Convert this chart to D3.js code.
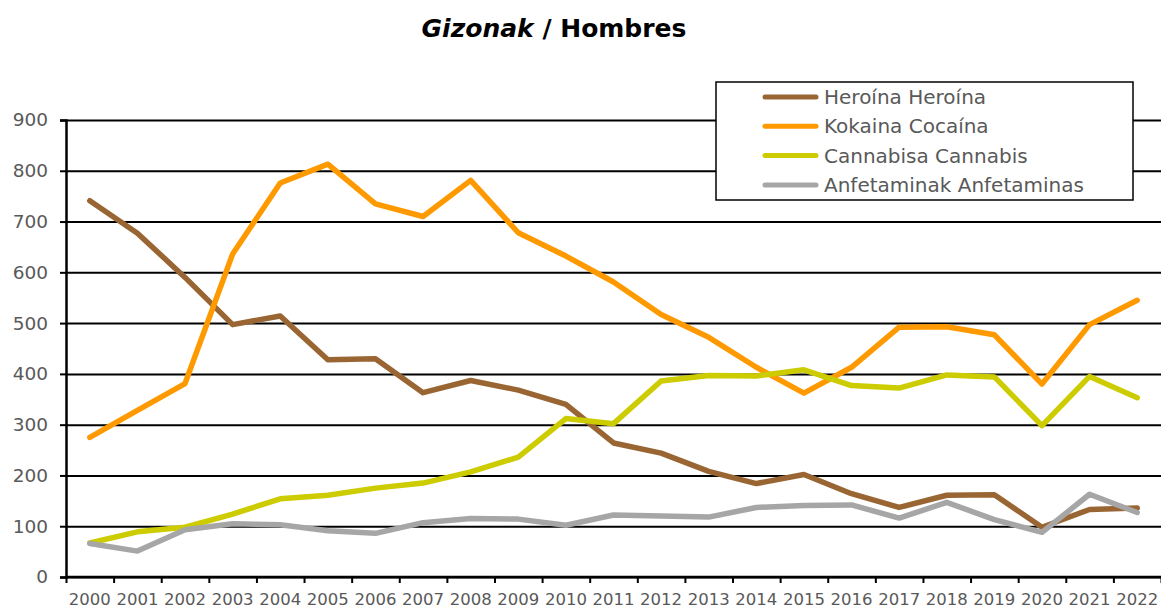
<!DOCTYPE html>
<html>
<head>
<meta charset="utf-8">
<script src="https://cdn.jsdelivr.net/npm/d3@7"></script>
<style>
  body { margin: 0; background: #fff; }
  text { font-family: "DejaVu Sans", sans-serif; }
</style>
</head>
<body>
<div class="chart"></div>
<script>
var years = ['2000','2001','2002','2003','2004','2005','2006','2007','2008','2009','2010','2011',
             '2012','2013','2014','2015','2016','2017','2018','2019','2020','2021','2022'];
var heroina     = [741,677,590,497,514,428,430,363,387,368,340,264,244,208,184,202,164,137,161,162,98,133,136];
var cocaina     = [275,328,381,636,776,813,735,710,781,678,632,581,517,472,413,362,413,492,493,477,380,497,545];
var cannabis    = [67,89,98,124,154,161,175,185,207,236,312,302,386,397,396,408,377,372,398,394,298,395,353];
var anfetaminas = [66,51,93,105,103,91,86,107,115,114,102,122,120,118,137,141,142,116,147,113,88,163,127];
var seriesNames = ['Heroína Heroína','Kokaina Cocaína','Cannabisa Cannabis','Anfetaminak Anfetaminas'];
var colors = ['#996633','#ff9900','#cccc00','#a6a6a6'];
var yTicks = [0,100,200,300,400,500,600,700,800,900];

var series = [heroina, cocaina, cannabis, anfetaminas];

var W = 1161, H = 610;
var pLeft = 66, pRight = 1161, pTop = 120, pBottom = 577;

var svg = d3.select('.chart').append('svg')
            .attr('width', W)
            .attr('height', H);

// title
var title = svg.append('text')
    .attr('x', 554).attr('y', 37)
    .attr('text-anchor', 'middle')
    .attr('font-size', '25px')
    .attr('font-weight', 'bold')
    .attr('fill', '#000');
title.append('tspan').attr('font-style', 'italic').text('Gizonak');
title.append('tspan').text(' / Hombres');

var x = d3.scaleBand().domain(years).range([pLeft, pRight]).paddingInner(0).paddingOuter(0);
var xEdge = d3.scaleLinear().domain([0, years.length]).range([pLeft, pRight]);
var y = d3.scaleLinear().domain([0, 900]).range([pBottom, pTop]);

// grid lines
svg.append('g')
   .attr('transform', 'translate(' + pLeft + ',0)')
   .call(d3.axisLeft(y).tickValues(yTicks).tickSize(-(pRight - pLeft)).tickFormat(''))
   .call(function(g){ g.select('.domain').remove(); })
   .selectAll('line').attr('stroke', '#000').attr('stroke-width', 2);

// y axis
var yAxis = svg.append('g')
   .attr('transform', 'translate(' + pLeft + ',0)')
   .call(d3.axisLeft(y).tickValues(yTicks).tickSize(6).tickPadding(12));
yAxis.select('.domain').attr('stroke', '#000').attr('stroke-width', 2.5);
yAxis.selectAll('line').attr('stroke', '#000').attr('stroke-width', 2);
yAxis.selectAll('text').attr('font-size', '18.5px').attr('fill', '#595959')
     .style('font-family', '"DejaVu Sans", sans-serif');

// x axis: tick marks at band edges, labels at band centres
var xTickAxis = svg.append('g')
   .attr('transform', 'translate(0,' + pBottom + ')')
   .call(d3.axisBottom(xEdge).tickValues(d3.range(0, years.length + 1)).tickSize(6).tickFormat(''));
xTickAxis.select('.domain').remove();
xTickAxis.selectAll('line').attr('stroke', '#000').attr('stroke-width', 2);

svg.append('line')
   .attr('x1', pLeft).attr('x2', pRight)
   .attr('y1', pBottom).attr('y2', pBottom)
   .attr('stroke', '#000').attr('stroke-width', 2.5);

var xLab = svg.append('g')
   .attr('transform', 'translate(0,' + pBottom + ')')
   .call(d3.axisBottom(x).tickSize(0).tickPadding(16));
xLab.select('.domain').remove();
xLab.selectAll('text').attr('font-size', '16.5px').attr('fill', '#595959')
    .style('font-family', '"DejaVu Sans", sans-serif');

// lines
var line = d3.line()
   .x(function(d, i){ return x(years[i]) + x.bandwidth() / 2; })
   .y(function(d){ return y(d); });

svg.selectAll('path.series')
   .data(series)
   .enter().append('path')
     .attr('class', 'series')
     .attr('d', line)
     .attr('fill', 'none')
     .attr('stroke', function(d, i){ return colors[i]; })
     .attr('stroke-width', 5.5)
     .attr('stroke-linejoin', 'round')
     .attr('stroke-linecap', 'round');

// legend
var legend = svg.append('g');
legend.append('rect')
   .attr('x', 716).attr('y', 82)
   .attr('width', 417).attr('height', 118)
   .attr('fill', '#fff').attr('stroke', '#000').attr('stroke-width', 1.5);

var item = legend.selectAll('g.item')
   .data(seriesNames)
   .enter().append('g')
     .attr('class', 'item')
     .attr('transform', function(d, i){ return 'translate(0,' + (97 + i * 29.3) + ')'; });

item.append('line')
   .attr('x1', 765).attr('x2', 816)
   .attr('stroke', function(d, i){ return colors[i]; })
   .attr('stroke-width', 5)
   .attr('stroke-linecap', 'round');

item.append('text')
   .attr('x', 824).attr('dy', '0.35em')
   .attr('font-size', '20px')
   .attr('fill', '#595959')
   .text(function(d){ return d; });
</script>
</body>
</html>
